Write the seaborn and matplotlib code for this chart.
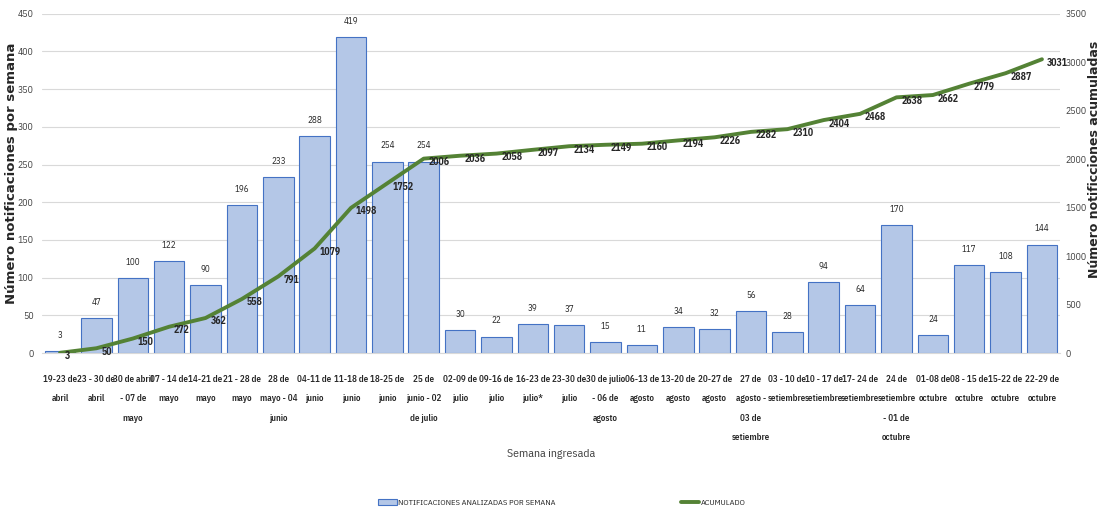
import seaborn as sns
import matplotlib.pyplot as plt
import pandas as pd
import numpy as np

# weekly notifications and cumulative
semanas = ['19-23 de\nabril', '23 - 30 de\nabril', '30 de abril\n- 07 de\nmayo', '07 - 14 de\nmayo',
           '14-21 de\nmayo', '21 - 28 de\nmayo', '28 de\nmayo - 04\njunio', '04-11 de\njunio',
           '11-18 de\njunio', '18-25 de\njunio', '25 de\njunio - 02\nde julio', '02-09 de\njulio',
           '09-16 de\njulio', '16-23 de\njulio*', '23-30 de\njulio', '30 de julio\n- 06 de\nagosto',
           '06-13 de\nagosto', '13-20 de\nagosto', '20-27 de\nagosto', '27 de\nagosto -\n03 de\nsetiembre',
           '03 - 10 de\nsetiembre', '10 - 17 de\nsetiembre', '17- 24 de\nsetiembre',
           '24 de\nsetiembre\n- 01 de\noctubre', '01-08 de\noctubre', '08 - 15 de\noctubre',
           '15-22 de\noctubre', '22-29 de\noctubre']
semanales = [3, 47, 100, 122, 90, 196, 233, 288, 419, 254, 254, 30, 22, 39, 37, 15, 11, 34, 32, 56,
             28, 94, 64, 170, 24, 117, 108, 144]
acumulado = [3, 50, 150, 272, 362, 558, 791, 1079, 1498, 1752, 2006, 2036, 2058, 2097, 2134, 2149,
             2160, 2194, 2226, 2282, 2310, 2404, 2468, 2638, 2662, 2779, 2887, 3031]

df = pd.DataFrame({'semana': semanas, 'n': semanales, 'acum': acumulado, 'pos': np.arange(len(semanas))})

sns.set_style('white')
NARROW = ['IBM Plex Sans Condensed', 'Open Sans Condensed', 'DejaVu Sans']
plt.rcParams['font.family'] = NARROW

fig = plt.figure(figsize=(11.02, 5.11), dpi=100)
ax = fig.add_axes([0.038, 0.309, 0.924, 0.664])

sns.barplot(data=df, x='semana', y='n', color='#B4C7E7', edgecolor='#4472C4', linewidth=0.8,
            width=0.84, saturation=1, ax=ax, label='NOTIFICACIONES ANALIZADAS POR SEMANA', legend=False)
ax.set_ylim(0, 450)
ax.set_yticks(range(0, 451, 50))
ax.yaxis.grid(True, color='#D9D9D9', linewidth=0.8)
ax.set_axisbelow(True)
ax.set_xlim(-0.5, len(semanas) - 0.5)
ax.tick_params(axis='x', length=0, labelsize=6.5, pad=16)
ax.tick_params(axis='y', length=0, labelsize=7, colors='#404040', pad=6)
for lbl in ax.get_xticklabels():
    lbl.set_fontweight('semibold')
    lbl.set_linespacing(2.45)
for s in ['top', 'right', 'left']:
    ax.spines[s].set_visible(False)
ax.spines['bottom'].set_color('#D9D9D9')
ax.set_xlabel('Semana ingresada', fontsize=8.5, labelpad=5, color='#404040')
ax.set_ylabel('Número notificaciones por semana', fontsize=9.5, fontweight='bold',
              family=['DejaVu Sans'], color='#262626')
ax.yaxis.set_label_coords(-0.0236, 0.53)

for p, v in zip(df['pos'], df['n']):
    ax.annotate(str(v), (p, v), xytext=(0, 8), textcoords='offset points', ha='center', va='bottom',
                fontsize=6.5)

ax2 = ax.twinx()
sns.lineplot(data=df, x='pos', y='acum', color='#548235', linewidth=2.8, ax=ax2,
             label='ACUMULADO', legend=False)
ax2.set_ylim(0, 3500)
ax2.set_yticks(range(0, 3501, 500))
ax2.tick_params(axis='y', length=0, labelsize=7, colors='#404040', pad=4)
for s in ['top', 'right', 'left', 'bottom']:
    ax2.spines[s].set_visible(False)
ax2.set_ylabel('Número notificciones acumuladas', fontsize=9, fontweight='bold',
               family=['DejaVu Sans'], color='#262626')
ax2.yaxis.set_label_coords(1.0275, 0.57)
ax2.set_xlim(-0.5, len(semanas) - 0.5)

for p, v in zip(df['pos'], df['acum']):
    ax2.annotate(str(v), (p, v), xytext=(3.5, -2.5), textcoords='offset points', ha='left',
                 va='center', fontsize=7, fontweight='bold')

h1, l1 = ax.get_legend_handles_labels()
h2, l2 = ax2.get_legend_handles_labels()
fig.legend(h1 + h2, l1 + l2, loc='center', bbox_to_anchor=(0.51, 0.016), ncol=2, frameon=False,
           fontsize=6, columnspacing=15, handlelength=2.2, handletextpad=0.2)

plt.savefig('out.png', dpi=100)
